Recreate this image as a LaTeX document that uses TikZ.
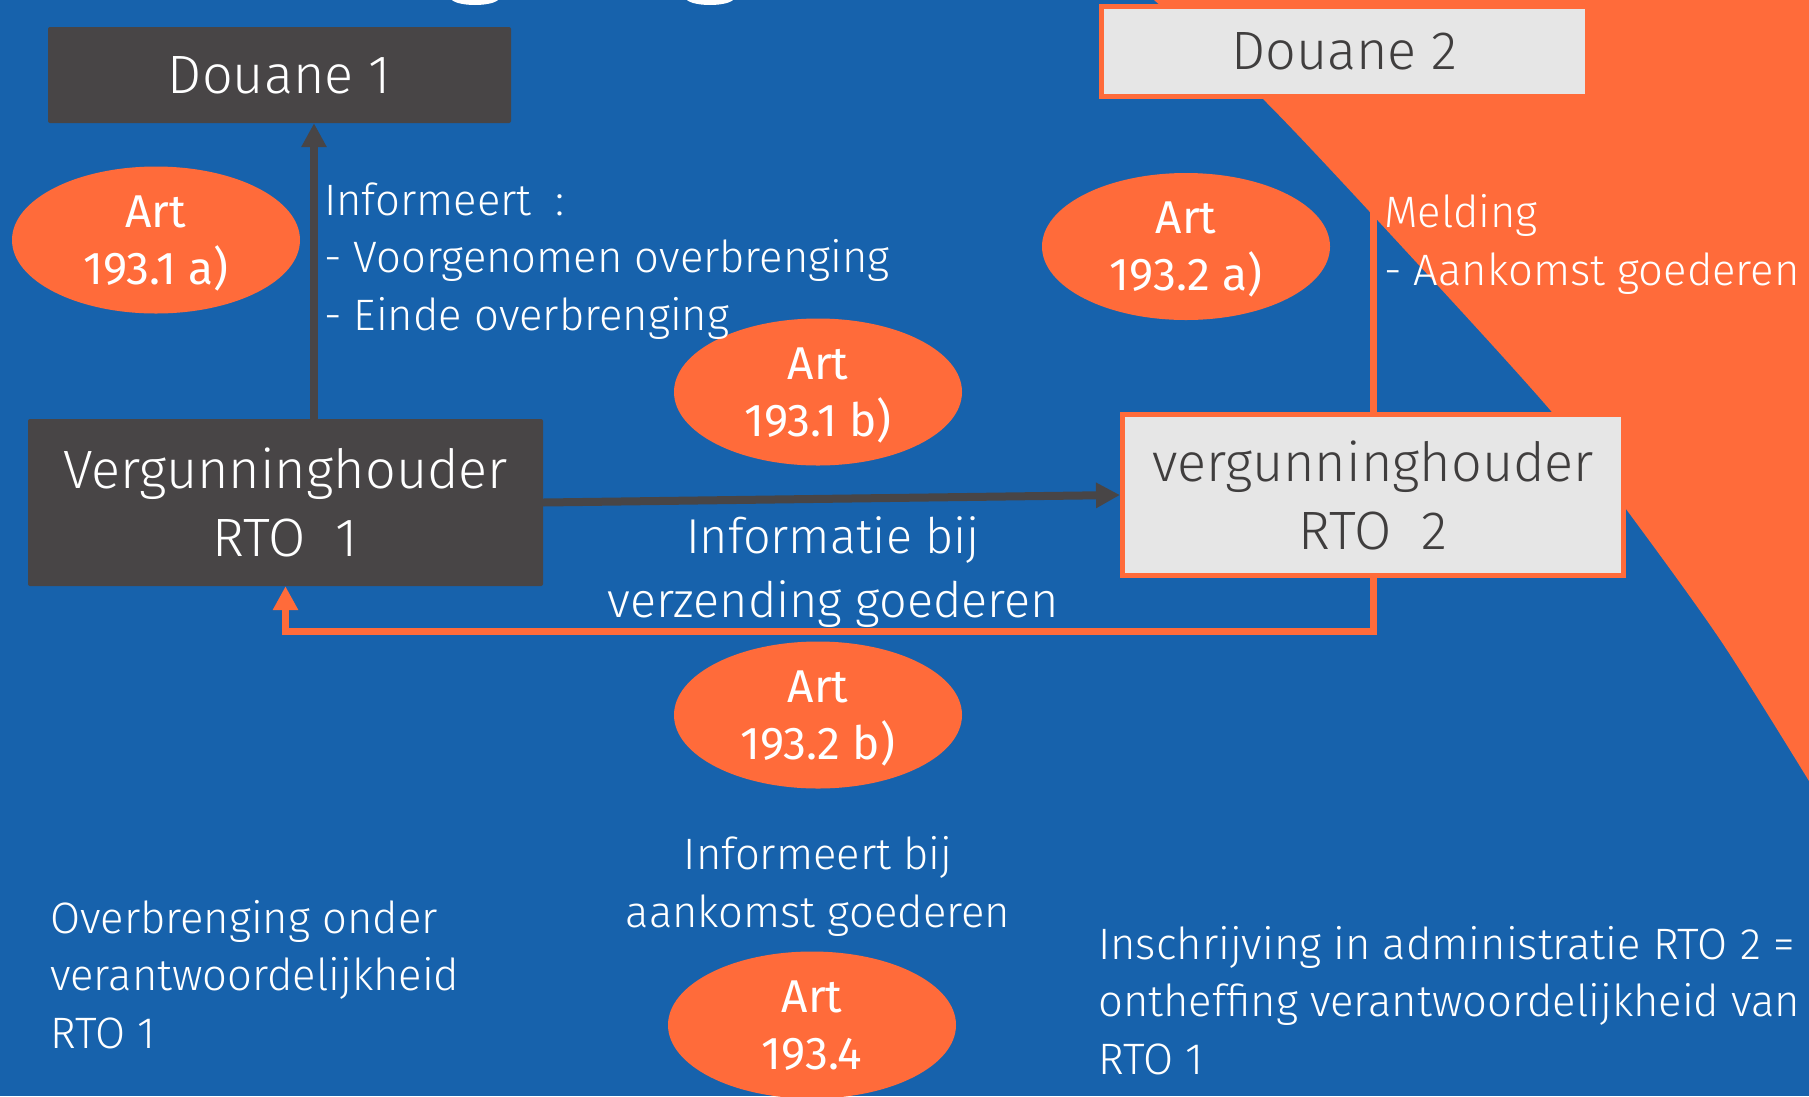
\documentclass[tikz,border=0pt]{standalone}
\usepackage{fontspec}
\setmainfont{Fira Sans}
\newfontfamily\lightfont{Fira Sans Light}
\newfontfamily\lblfont{Fira Sans Light}[FakeStretch=0.99]
\newfontfamily\regfont{Fira Sans}
\usetikzlibrary{shapes.geometric,arrows.meta,calc}
\definecolor{bgblue}{RGB}{23,98,172}
\definecolor{orng}{RGB}{255,107,58}
\definecolor{dgrey}{RGB}{72,69,70}
\definecolor{lgrey}{RGB}{230,230,230}
\definecolor{dtext}{RGB}{64,62,62}
\begin{document}
\begin{tikzpicture}[x=1pt,y=-1pt,
  darkbox/.style={rectangle, fill=dgrey, text=white, rounded corners=2pt, inner sep=0pt, align=center},
  lightbox/.style={rectangle, fill=lgrey, draw=orng, line width=5pt, text=dtext, inner sep=0pt, align=center},
  bigfont/.style={font=\lightfont\fontsize{54}{68}\selectfont},
  art/.style={ellipse, fill=orng, minimum width=288pt, minimum height=147pt, inner sep=0pt, text=white, align=center, text depth=0pt, font=\regfont\fontsize{46}{57}\selectfont},
  lbl/.style={text=white, inner sep=0pt, font=\lblfont\fontsize{44}{57.5}\selectfont},
  darrow/.style={draw=dgrey, line width=8pt, -{Triangle[length=24pt,width=24pt]}},
  oline/.style={draw=orng, line width=7pt},
  oarrow/.style={draw=orng, line width=7pt, -{Triangle[length=24pt,width=24pt]}}
]
\useasboundingbox (0,0) rectangle (1809,1096);
\fill[bgblue] (0,0) rectangle (1809,1096);
% orange background shape
\fill[orng] plot[smooth] coordinates {(1154,0) (1263,99) (1405,250) (1551,411) (1626,509) (1721,641) (1809,781)} -- (1809,0) -- cycle;
% fragments of the cut-off title
\fill[white] (475,-2) ellipse [x radius=24pt, y radius=7pt];
\fill[white] (710,-2) ellipse [x radius=24pt, y radius=7pt];

% boxes
\node[darkbox, bigfont, minimum width=463pt, minimum height=96pt] (d1) at (279.5,75) {Douane 1};
\node[lightbox, bigfont, minimum width=486pt, minimum height=90pt] (d2) at (1344.5,51.5) {Douane 2};
\node[darkbox, bigfont, minimum width=515pt, minimum height=167pt] (r1) at (285.5,502.5) {Vergunninghouder\\RTO~~1};
\node[lightbox, bigfont, minimum width=501pt, minimum height=161pt] (r2) at (1373,495) {vergunninghouder\\RTO~~2};

% connectors
\coordinate (ax) at (314,0);
\draw[darrow] (r1.north -| ax) -- (d1.south -| ax);
\draw[darrow] (r1.east) -- (r2.west);
\draw[oline] (d2.south -| r2.north) -- (r2.north);
\draw[oarrow] (r2.south) -- ++(0,53) -| (r1.south);

% article ellipses
\node[art] (e1) at (156,240) {Art\\193.1 a)};
\node[art] (e2) at (1186,246.5) {Art\\193.2 a)};
\node[art] (e3) at (818,392) {Art\\193.1 b)};
\node[art] (e4) at (818,715) {Art\\193.2 b)};
\node[art] (e5) at (812,1025) {Art\\193.4};

% labels (anchor base = baseline of the last line)
\node[lbl, anchor=base west, align=left] (t1) at (324,330) {Informeert~~:\\- Voorgenomen overbrenging\\- Einde overbrenging};
\node[lbl, anchor=base west, align=left] (t2) at (1384,285) {Melding\\- Aankomst goederen};
\node[lbl, anchor=base, align=center, font=\lblfont\fontsize{49}{64}\selectfont] (t3) at (833,617) {Informatie bij\\verzending goederen};
\node[lbl, anchor=base, align=center] (t4) at (818,927) {Informeert bij\\aankomst goederen};
\node[lbl, anchor=base west, align=left] (t5) at (50,1048) {Overbrenging onder\\verantwoordelijkheid\\RTO 1};
\node[lbl, anchor=base west, align=left] (t6) at (1098,1074) {Inschrijving in administratie RTO 2 =\\ontheffing verantwoordelijkheid van\\RTO 1};
\end{tikzpicture}
\end{document}
